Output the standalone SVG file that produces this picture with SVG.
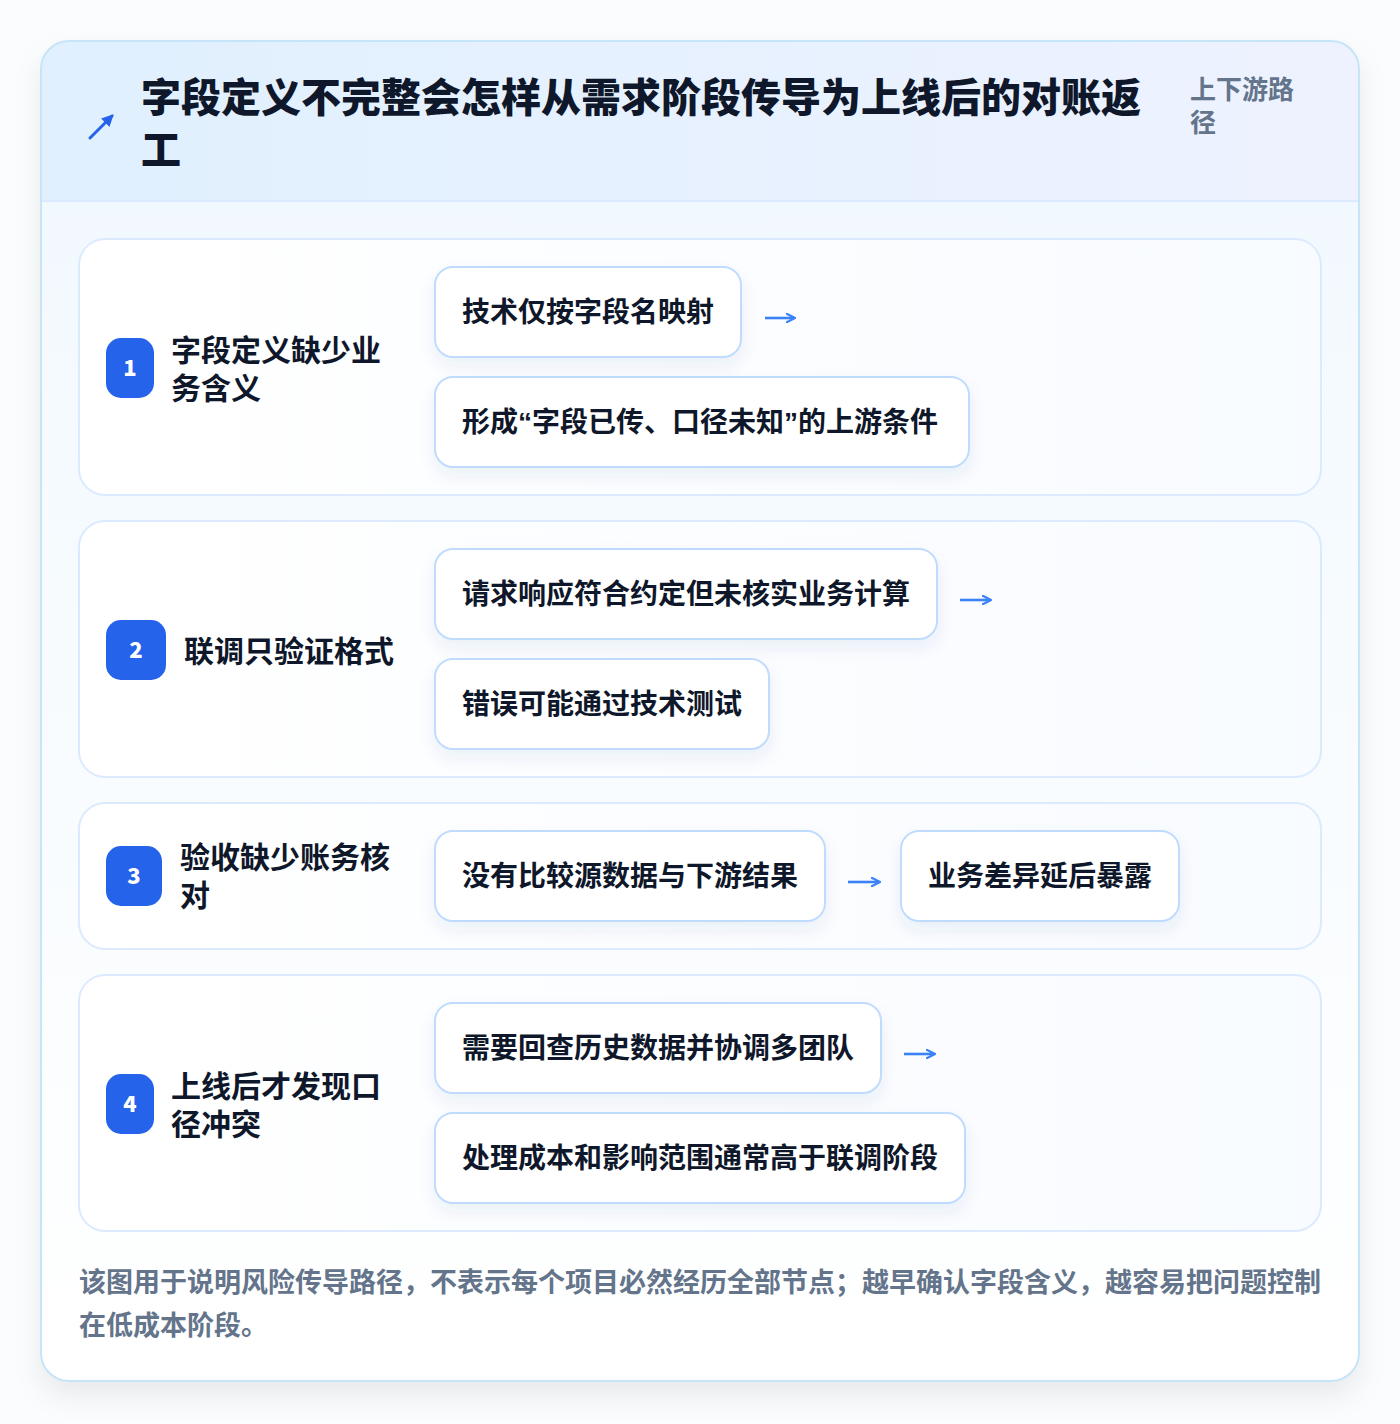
<svg xmlns="http://www.w3.org/2000/svg" width="1400" height="1424" viewBox="0 0 1400 1424">
<defs>
<linearGradient id="hdr" x1="0" y1="0" x2="1" y2="0">
<stop offset="0" stop-color="#e0f0fe"/>
<stop offset="1" stop-color="#eef2ff"/>
</linearGradient>
<linearGradient id="body" x1="0" y1="0" x2="0" y2="1">
<stop offset="0" stop-color="#f0f8fe"/>
<stop offset="1" stop-color="#ffffff"/>
</linearGradient>
<linearGradient id="card" x1="0" y1="0" x2="1" y2="0">
<stop offset="0" stop-color="#ffffff"/>
<stop offset="1" stop-color="#f8fbff"/>
</linearGradient>
<clipPath id="outerClip"><rect x="41" y="41" width="1318" height="1340" rx="28"/></clipPath>
<filter id="sh" x="-10%" y="-10%" width="120%" height="130%">
<feDropShadow dx="0" dy="14" stdDeviation="14" flood-color="#0f172a" flood-opacity="0.08"/>
</filter>
<filter id="chipSh" x="-10%" y="-20%" width="120%" height="160%">
<feDropShadow dx="0" dy="8" stdDeviation="8" flood-color="#1e3a8a" flood-opacity="0.07"/>
</filter>
<marker id="ah" viewBox="0 0 10 10" refX="8" refY="5" markerWidth="4" markerHeight="4" orient="auto" markerUnits="strokeWidth">
<path d="M1,1 L9,5 L1,9" fill="none" stroke="#3b82f6" stroke-width="2.2" stroke-linecap="round" stroke-linejoin="round"/>
</marker>
<marker id="ah2" viewBox="0 0 10 10" refX="8" refY="5" markerWidth="4" markerHeight="4" orient="auto" markerUnits="strokeWidth">
<path d="M0,0 L10,5 L0,10 Z" fill="#2563eb"/>
</marker>
</defs>
<style>
text{font-family:"Noto Sans CJK SC","Noto Sans",sans-serif;font-weight:700}
.title{font-size:40px;fill:#0f172a;font-weight:800}
.sub{font-size:26px;fill:#64748b}
.card{fill:url(#card);stroke:#dbeafe;stroke-width:2}
.badge{fill:#2563eb}
.bnum{font-size:22px;fill:#ffffff;text-anchor:middle;font-weight:800}
.lbl{font-size:30px;fill:#0f172a}
.chip{fill:#ffffff;stroke:#bfdbfe;stroke-width:2}
.ctext{font-size:28px;fill:#0f172a}
.q{font-family:"Liberation Sans",sans-serif}
.arr{fill:none;stroke:#3b82f6;stroke-width:2.6;marker-end:url(#ah)}
.foot{font-size:27px;fill:#64748b}
</style>
<rect x="0" y="0" width="1400" height="1424" fill="#fbfcfd"/>
<g id="frame">
<rect x="41" y="41" width="1318" height="1340" rx="28" fill="url(#body)" filter="url(#sh)"/>
<g clip-path="url(#outerClip)">
<rect x="41" y="41" width="1318" height="160" fill="url(#hdr)"/>
<line x1="41" y1="201" x2="1359" y2="201" stroke="#dbeafe" stroke-width="2"/>
</g>
<rect x="41" y="41" width="1318" height="1340" rx="28" fill="none" stroke="#c7e5f8" stroke-width="2"/>
</g>
<g id="header">
<line x1="90" y1="138" x2="112" y2="116" stroke="#2563eb" stroke-width="3" stroke-linecap="round" marker-end="url(#ah2)"/>
<text class="title" x="141" y="112">字段定义不完整会怎样从需求阶段传导为上线后的对账返</text>
<text class="title" x="141" y="164">工</text>
<text class="sub" x="1190" y="99">上下游路</text>
<text class="sub" x="1190" y="132">径</text>
</g>
<g id="stage1">
<rect class="card" x="79" y="239" width="1242" height="256" rx="26"/>
<rect class="badge" x="106" y="338" width="48" height="60" rx="15"/>
<text class="bnum" x="130" y="376">1</text>
<text class="lbl" x="171" y="361">字段定义缺少业</text>
<text class="lbl" x="171" y="399">务含义</text>
</g>
<g id="s1c1"><rect class="chip" filter="url(#chipSh)" x="435" y="267" width="306" height="90" rx="18"/><text class="ctext" x="462" y="322">技术仅按字段名映射</text></g>
<g id="s1c2"><rect class="chip" filter="url(#chipSh)" x="435" y="377" width="534" height="90" rx="18"/><text class="ctext" x="462" y="432">形成<tspan class="q">“</tspan>字段已传、口径未知<tspan class="q">”</tspan>的上游条件</text></g>
<g id="stage2">
<rect class="card" x="79" y="521" width="1242" height="256" rx="26"/>
<rect class="badge" x="106" y="620" width="60" height="60" rx="15"/>
<text class="bnum" x="136" y="658">2</text>
<text class="lbl" x="184" y="662">联调只验证格式</text>
</g>
<g id="s2c1"><rect class="chip" filter="url(#chipSh)" x="435" y="549" width="502" height="90" rx="18"/><text class="ctext" x="462" y="604">请求响应符合约定但未核实业务计算</text></g>
<g id="s2c2"><rect class="chip" filter="url(#chipSh)" x="435" y="659" width="334" height="90" rx="18"/><text class="ctext" x="462" y="714">错误可能通过技术测试</text></g>
<g id="stage3">
<rect class="card" x="79" y="803" width="1242" height="146" rx="26"/>
<rect class="badge" x="106" y="846" width="56" height="60" rx="15"/>
<text class="bnum" x="134" y="884">3</text>
<text class="lbl" x="180" y="868">验收缺少账务核</text>
<text class="lbl" x="180" y="906">对</text>
</g>
<g id="s3c1"><rect class="chip" filter="url(#chipSh)" x="435" y="831" width="390" height="90" rx="18"/><text class="ctext" x="462" y="886">没有比较源数据与下游结果</text></g>
<g id="s3c2"><rect class="chip" filter="url(#chipSh)" x="901" y="831" width="278" height="90" rx="18"/><text class="ctext" x="928" y="886">业务差异延后暴露</text></g>
<g id="stage4">
<rect class="card" x="79" y="975" width="1242" height="256" rx="26"/>
<rect class="badge" x="106" y="1074" width="48" height="60" rx="15"/>
<text class="bnum" x="130" y="1112">4</text>
<text class="lbl" x="171" y="1097">上线后才发现口</text>
<text class="lbl" x="171" y="1135">径冲突</text>
</g>
<g id="s4c1"><rect class="chip" filter="url(#chipSh)" x="435" y="1003" width="446" height="90" rx="18"/><text class="ctext" x="462" y="1058">需要回查历史数据并协调多团队</text></g>
<g id="s4c2"><rect class="chip" filter="url(#chipSh)" x="435" y="1113" width="530" height="90" rx="18"/><text class="ctext" x="462" y="1168">处理成本和影响范围通常高于联调阶段</text></g>
<g id="connectors">
<line class="arr" x1="765" y1="318" x2="794" y2="318"/>
<line class="arr" x1="960" y1="600" x2="990" y2="600"/>
<line class="arr" x1="848" y1="882" x2="879" y2="882"/>
<line class="arr" x1="904" y1="1054" x2="934" y2="1054"/>
</g>
<g id="footer">
<text class="foot" x="79" y="1292">该图用于说明风险传导路径，不表示每个项目必然经历全部节点；越早确认字段含义，越容易把问题控制</text>
<text class="foot" x="79" y="1335">在低成本阶段。</text>
</g>
</svg>
